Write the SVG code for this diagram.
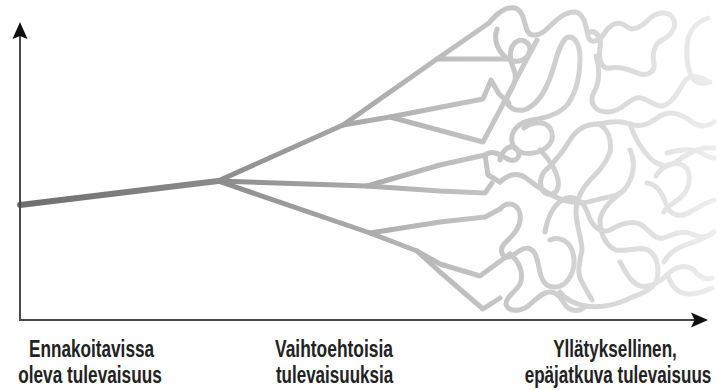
<svg xmlns="http://www.w3.org/2000/svg" width="719" height="390" viewBox="0 0 719 390">
<defs>
<linearGradient id="g" gradientUnits="userSpaceOnUse" x1="20" y1="0" x2="719" y2="0">
<stop offset="0" stop-color="#6e6e6e"/>
<stop offset="0.283" stop-color="#8c8c8c"/>
<stop offset="0.462" stop-color="#a6a6a6"/>
<stop offset="0.6" stop-color="#bcbcbc"/>
<stop offset="0.715" stop-color="#c9c9c9"/>
<stop offset="0.83" stop-color="#d6d6d6"/>
<stop offset="1" stop-color="#eeeeee"/>
</linearGradient>
<style>
.ln{fill:none;stroke:url(#g);stroke-width:5;stroke-linecap:round;stroke-linejoin:round}
.ax{fill:none;stroke:#4a4a4a;stroke-width:2}
.hd{fill:#111}
.lb{font-family:"Liberation Sans",Arial,sans-serif;font-weight:bold;font-size:24px;fill:#222;text-anchor:middle}
</style>
</defs>
<rect width="719" height="390" fill="#fff"/>
<g id="tree">
<path class="ln" style="stroke-width:6" d="M20,205 L218,181"/>
<path class="ln" d="M218,181 L343,125 L437,59 L489,23"/>
<path class="ln" d="M437,59 L508,59"/>
<path class="ln" d="M343,125 L390,117 L483,99 L491,80 L499,94 L509,103"/>
<path class="ln" d="M390,117 L483,142 L537,40"/>
<path class="ln" d="M218,181 L367,186 L440,191 L485,193 L492,183"/>
<path class="ln" d="M367,186 L440,165 L485,155 L488,175 L500,182"/>
<path class="ln" d="M218,181 L370,233 L417,251 L440,264 L480,276 L510,254"/>
<path class="ln" d="M370,233 L440,222 L485,217 L500,209"/>
<path class="ln" d="M417,251 L440,272 L483,309 L500,298"/>
</g>
<g id="tangle">
<path class="ln" d="M489,23 C496,14 506,6 515,8 C523,10 524,22 527,30 C530,38 540,36 548,28 C556,20 564,12 575,12 C584,13 586,26 588,36 C590,44 598,42 604,34 C610,24 618,20 626,26 C632,32 640,28 648,20 C656,12 668,10 673,18 C678,28 670,36 662,40 C654,44 652,54 654,64 C655,72 648,76 640,74 C630,70 620,66 610,68 C602,70 598,60 600,48 C602,38 596,30 590,32"/>
<path class="ln" d="M497,29 C493,40 498,52 508,59 C518,64 528,60 530,50 C530,42 522,38 516,42 C508,48 510,60 514,70 C518,80 512,88 508,96 C504,104 512,112 524,110 C536,106 544,94 550,78 C556,62 558,46 566,38 C574,34 580,44 580,58 C580,76 576,92 568,104 C560,114 546,118 532,120 C520,122 510,130 512,142 C514,152 526,156 538,152 C550,148 556,138 550,128 C544,120 532,122 524,128"/>
<path class="ln" d="M596,56 C600,68 600,82 594,92 C588,104 596,112 608,112 C620,112 626,102 636,98 C646,96 652,106 662,106 C672,104 678,92 684,82 C690,74 698,76 706,80"/>
<path class="ln" d="M708,18 C696,22 688,32 687,46 C686,60 688,72 694,80 C698,84 704,84 710,82"/>
<path class="ln" d="M485,155 C494,148 504,158 510,160 C518,162 522,154 516,148 C510,144 502,150 500,160"/>
<path class="ln" d="M540,150 C548,158 556,168 558,180 C560,192 552,198 544,192 C538,186 540,174 548,168 C556,160 564,150 570,140 C576,130 586,124 598,124 C608,128 612,140 610,152 C606,164 598,172 590,180 C582,188 576,200 576,212 C576,226 582,238 582,250 C580,262 576,272 582,282 C586,290 590,296 592,300"/>
<path class="ln" d="M598,124 C610,122 620,120 630,124 C640,128 650,124 660,116 C670,110 682,114 692,122 C700,128 708,126 714,122"/>
<path class="ln" d="M630,124 C634,136 640,148 650,158 C658,166 668,168 676,162 C684,156 694,150 704,148 C708,148 712,148 714,148"/>
<path class="ln" d="M630,150 C636,162 634,178 624,190 C612,200 602,208 600,220 C600,234 606,246 616,250 C628,252 638,246 648,250 C658,256 660,270 656,282 C650,292 638,294 626,300 C612,306 600,308 586,306 C574,304 566,300 560,292"/>
<path class="ln" d="M647,183 C656,184 662,192 666,204 C670,216 680,218 690,212 C700,206 708,202 714,200"/>
<path class="ln" d="M656,176 C662,166 674,160 684,166 C692,172 690,186 684,194 C678,202 668,204 664,212"/>
<path class="ln" d="M667,153 C678,150 690,148 700,152 C706,156 710,158 714,158"/>
<path class="ln" d="M500,182 C508,174 518,172 526,178 C536,186 548,194 562,200 C574,204 584,204 596,200 C608,196 616,198 624,190"/>
<path class="ln" d="M500,209 C508,200 518,204 520,214 C522,228 512,236 504,244 C498,252 504,260 512,256 C520,250 528,244 534,252 C540,262 538,274 544,282 C550,290 562,288 568,280 C574,272 576,262 572,250 C568,240 558,236 550,240"/>
<path class="ln" d="M510,254 C520,262 524,274 520,284 C516,292 506,296 506,304 C508,312 520,312 528,306 C536,300 542,292 550,292 C558,292 562,300 566,306 C572,312 580,312 586,306"/>
<path class="ln" d="M545,232 C548,214 556,202 566,198 C576,196 584,202 588,214 C592,226 600,234 610,230 C620,224 630,220 640,224 C650,230 654,240 664,238 C674,234 682,230 692,234 C700,238 706,238 712,234"/>
<path class="ln" d="M620,262 C626,272 630,282 640,286 C650,288 660,282 668,274 C676,266 686,264 694,270 C700,278 706,280 712,278"/>
<path class="ln" d="M664,262 C670,250 682,246 694,242 C702,240 708,236 714,232"/>
<path class="ln" d="M668,276 C672,288 680,294 690,294 C700,294 706,290 712,288"/>
</g>
<g id="axes">
<path class="ax" d="M20,320 L20,36"/>
<polygon class="hd" points="20,22 27.5,39 20,36 12.5,39"/>
<path class="ax" d="M19,320 L696,320"/>
<polygon class="hd" points="708,320 691,312.5 694.5,320 691,327.5"/>
</g>
<g id="labels">
<text class="lb" transform="translate(91.5,357) scale(0.715,1)" textLength="175" lengthAdjust="spacingAndGlyphs">Ennakoitavissa</text>
<text class="lb" transform="translate(90,383) scale(0.715,1)" textLength="201" lengthAdjust="spacingAndGlyphs">oleva tulevaisuus</text>
<text class="lb" transform="translate(334,357) scale(0.715,1)" textLength="165" lengthAdjust="spacingAndGlyphs">Vaihtoehtoisia</text>
<text class="lb" transform="translate(334.5,383) scale(0.715,1)" textLength="164" lengthAdjust="spacingAndGlyphs">tulevaisuuksia</text>
<text class="lb" transform="translate(615,357) scale(0.715,1)" textLength="173" lengthAdjust="spacingAndGlyphs">Yllätyksellinen,</text>
<text class="lb" transform="translate(618,383) scale(0.715,1)" textLength="261" lengthAdjust="spacingAndGlyphs">epäjatkuva tulevaisuus</text>
</g>
</svg>
